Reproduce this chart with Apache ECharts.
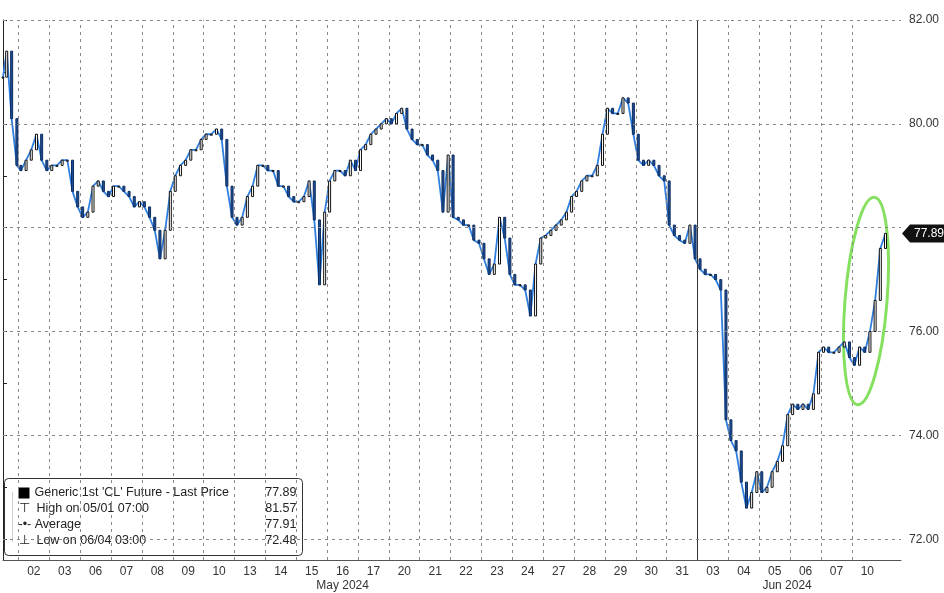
<!DOCTYPE html>
<html><head><meta charset="utf-8">
<script src="https://cdn.jsdelivr.net/npm/echarts@6/dist/echarts.min.js"></script>
<style>html,body{margin:0;background:#fff}#c{width:944px;height:593px}</style>
</head><body><div id="c"></div>
<script>
const dayLabels = ['01','02','03','06','07','08','09','10','13','14','15','16','17','20','21','22','23','24','27','28','29','30','31','03','04','05','06','07','10'];
const may1Times = [0.0, 0.12, 0.28, 0.45];
const may1Closes = [80.9, 81.4, 80.1, 79.2];
const dailyCloses = [
  [79.1,79.3,79.5,79.8,79.3,79.1],
  [79.2,79.2,79.3,79.3,78.7,78.4],
  [78.2,78.3,78.8,78.9,78.7,78.6],
  [78.8,78.8,78.7,78.6,78.4,78.5],
  [78.4,78.2,77.95,77.4,77.95,78.7],
  [79.0,79.2,79.3,79.5,79.5,79.7],
  [79.8,79.8,79.9,79.7,78.8,78.2],
  [78.05,78.2,78.6,78.8,79.2,79.2],
  [79.1,79.1,78.8,78.8,78.6,78.5],
  [78.5,78.6,78.9,78.15,76.9,78.3],
  [78.9,79.1,79.1,79.0,79.3,79.1],
  [79.5,79.6,79.8,79.9,80.0,80.1],
  [80.0,80.2,80.3,79.9,79.7,79.6],
  [79.6,79.4,79.3,79.1,78.3,79.4],
  [78.2,78.15,78.05,78.05,77.76,77.7],
  [77.4,77.1,77.3,78.2,77.8,77.1],
  [76.9,76.9,76.8,76.3,77.3,77.8],
  [77.85,77.95,78.05,78.15,78.3,78.6],
  [78.7,78.9,79.0,79.0,79.2,79.8],
  [80.3,80.2,80.2,80.5,80.4,79.8],
  [79.3,79.2,79.3,79.2,79.0,78.9],
  [78.05,77.85,77.76,77.7,78.05,77.4],
  [77.2,77.1,77.1,77.0,76.8,74.3],
  [73.9,73.7,73.1,72.6,72.9,73.3],
  [72.9,73.0,73.3,73.5,73.8,74.4],
  [74.6,74.5,74.6,74.5,74.8,75.6],
  [75.7,75.6,75.6,75.7,75.8,75.5],
  [75.35,75.7,75.6,76.0,76.6,77.6,77.89]
];
const lastPrice = 77.89;
const yLabelValues = [72,74,76,80,82];
const yGridValues = [72,74,76,78,80,82];
const yTickValues = [72,73,74,75,76,77,78,79,80,81,82];
const legendRows = [["Generic 1st 'CL' Future - Last Price","77.89"],["High on 05/01 07:00","81.57"],["Average","77.91"],["Low on 06/04 03:00","72.48"]];
const monthLabels = [['May 2024',11],['Jun 2024',25.4]];

const pts = may1Times.map((t,i)=>[t, may1Closes[i]]);
dailyCloses.forEach((arr,k)=>{
  const d = k+1;
  arr.forEach((v,j)=>pts.push([d-0.42 + j*(0.84/5), v]));
});
const ohlc = pts.map((p,i)=>[p[0], i? pts[i-1][1] : p[1], p[1]]);
const bounds = dayLabels.map((_,i)=>i+0.5).slice(0,28);

const chart = echarts.init(document.getElementById('c'));
chart.setOption({
  animation:false,
  backgroundColor:'#fff',
  grid:{left:1,right:43,top:20,bottom:33},
  xAxis:{type:'value',min:0,max:29.09,interval:1,
    axisLine:{show:true,lineStyle:{color:'#555'}},axisTick:{show:false},splitLine:{show:false},
    axisLabel:{color:'#333',fontSize:12,fontFamily:'Liberation Sans',margin:6,
      formatter:v=>v>=1&&v<dayLabels.length?dayLabels[v]:''}},
  yAxis:{type:'value',position:'right',min:71.6,max:82,
    axisLine:{show:true,lineStyle:{color:'#222'}},
    axisTick:{show:true,length:4,customValues:yTickValues,lineStyle:{color:'#222'}},
    splitLine:{show:false},
    axisLabel:{color:'#333',fontSize:12,fontFamily:'Liberation Sans',margin:8,customValues:yLabelValues,
      formatter:v=>v.toFixed(2)}},
  series:[
    {type:'line',data:pts,symbol:'none',lineStyle:{color:'#2f7fe0',width:1.8},z:2,
     markLine:{silent:true,symbol:'none',animation:false,label:{show:false},
       data:[
         ...bounds.map(b=>({xAxis:b,lineStyle:{type:b===22.5?'solid':[3,4],color:b===22.5?'#333':'#888',width:1}})),
         ...yGridValues.map(v=>({yAxis:v,lineStyle:{type:[3,4],color:'#888',width:1}}))
       ]}},
    {type:'custom',z:3,data:ohlc,renderItem:(params,api)=>{
      const t=api.value(0),o=api.value(1),c=api.value(2);
      const p1=api.coord([t,o]),p2=api.coord([t,c]);
      const up=c>=o;
      const y=Math.min(p1[1],p2[1]),h=Math.max(Math.abs(p1[1]-p2[1]),1);
      return {type:'rect',shape:{x:p1[0]-1,y:y,width:2,height:h},
        style:{fill:up?'#fff':'#1e4f9a',stroke:up?'#111':'#0d2c5e',lineWidth:1}};
    }}
  ]
});
const g=[];
monthLabels.forEach(([s,d])=>{
  const px=chart.convertToPixel({xAxisIndex:0},d);
  g.push({type:'text',x:px,y:580,style:{text:s,fill:'#333',font:'12px Liberation Sans',align:'center',verticalAlign:'top'}});
});
const tagY=chart.convertToPixel({yAxisIndex:0},lastPrice);
g.push({type:'polygon',shape:{points:[[902,tagY],[910,tagY-9],[944,tagY-9],[944,tagY+9],[910,tagY+9]]},style:{fill:'#111'}});
g.push({type:'text',x:914,y:tagY,style:{text:lastPrice.toFixed(2),fill:'#fff',font:'12px Liberation Sans',verticalAlign:'middle'}});
const box={type:'group',left:4,top:478,children:[
  {type:'rect',shape:{x:0,y:0,width:298,height:77,r:4},style:{fill:'#fff',stroke:'#333',lineWidth:1}},
  {type:'rect',shape:{x:14,y:9,width:11,height:11},style:{fill:'#000'}},
  {type:'line',shape:{x1:8,y1:14,x2:8,y2:64},style:{stroke:'#999',lineDash:[1,1]}}
]};
legendRows.forEach((r,i)=>{
  const ty=8+i*16;
  box.children.push({type:'text',x:i===0?30:14,y:ty,style:{text:(i===1?'⊤  ':i===2?'-•- ':i===3?'⊥  ':'')+r[0],fill:'#222',font:'12.5px Liberation Sans',verticalAlign:'top'}});
  box.children.push({type:'text',x:292,y:ty,style:{text:r[1],fill:'#222',font:'12.5px Liberation Sans',align:'right',verticalAlign:'top'}});
});
g.push(box);
g.push({type:'ellipse',x:866,y:301,rotation:-0.08,shape:{cx:0,cy:0,rx:21,ry:104},style:{fill:'none',stroke:'#86e060',lineWidth:3}});
chart.setOption({graphic:g});
</script></body></html>
